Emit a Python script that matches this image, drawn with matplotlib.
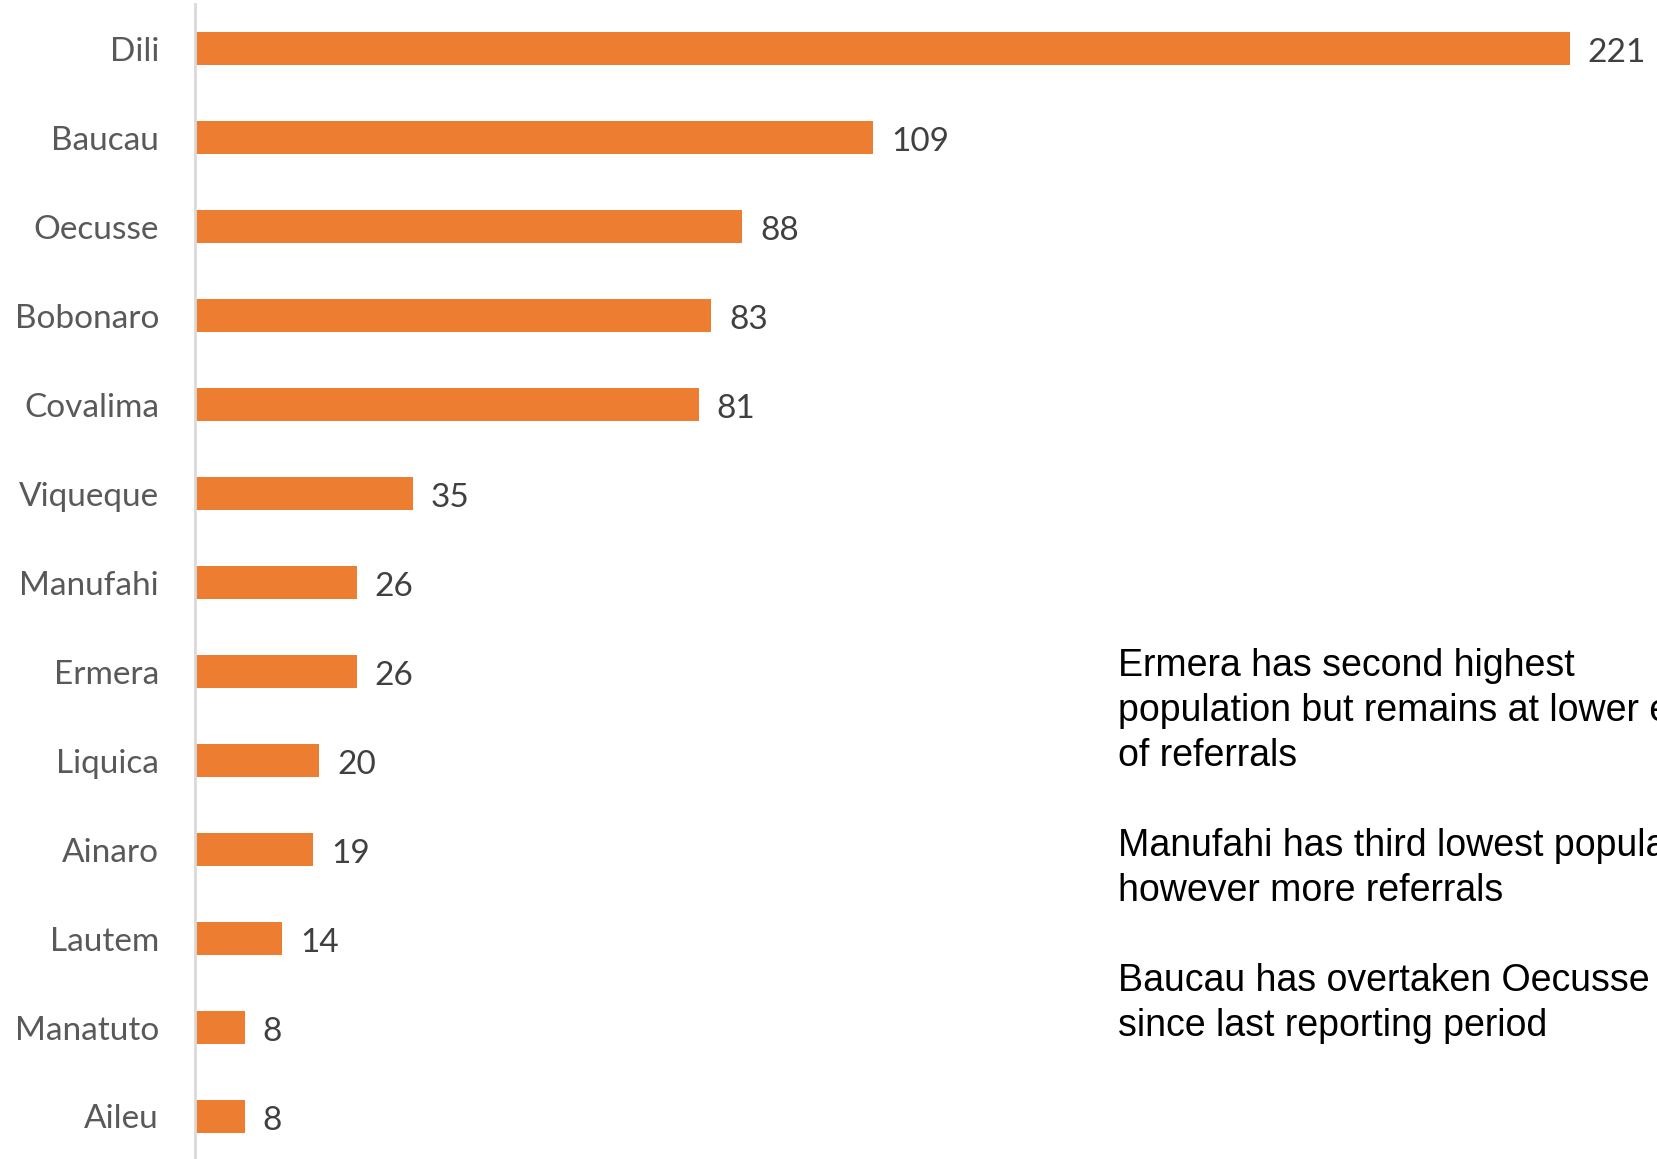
import matplotlib.pyplot as plt
import numpy as np

districts = ['Dili', 'Baucau', 'Oecusse', 'Bobonaro', 'Covalima', 'Viqueque',
             'Manufahi', 'Ermera', 'Liquica', 'Ainaro', 'Lautem', 'Manatuto', 'Aileu']
referrals = [221, 109, 88, 83, 81, 35, 26, 26, 20, 19, 14, 8, 8]

notes = ("Ermera has second highest\n"
         "population but remains at lower end\n"
         "of referrals\n"
         "\n"
         "Manufahi has third lowest population\n"
         "however more referrals\n"
         "\n"
         "Baucau has overtaken Oecusse\n"
         "since last reporting period")

W, H = 1657, 1159
fig = plt.figure(figsize=(W / 100, H / 100), dpi=100)
ax = fig.add_axes([195 / W, -2 / H, (W - 195) / W, 1157 / H])

y = np.arange(len(districts))
ax.barh(y, referrals, height=0.36, color='#ED7D31')
ax.set_ylim(len(districts) - 0.5, -0.5)
ax.set_xlim(0, (W - 195) / 6.22)

for yi, v in zip(y, referrals):
    ax.text(v + 2.9, yi + 0.05, str(v), va='center', ha='left',
            fontsize=24, family='Lato', color='#404040')

ax.set_yticks(y)
ax.set_yticklabels(districts, fontsize=24, family='Lato', color='#595959')
ax.tick_params(axis='y', length=0, pad=26)
ax.set_xticks([])

for s in ['top', 'right', 'bottom']:
    ax.spines[s].set_visible(False)
ax.spines['left'].set_color('#D9D9D9')
ax.spines['left'].set_linewidth(2)

fig.text(1118 / W, 1 - 648 / H, notes, ha='left', va='top',
         fontsize=27, family='Liberation Sans', color='black', linespacing=1.32)

plt.savefig('out.png', dpi=100)
